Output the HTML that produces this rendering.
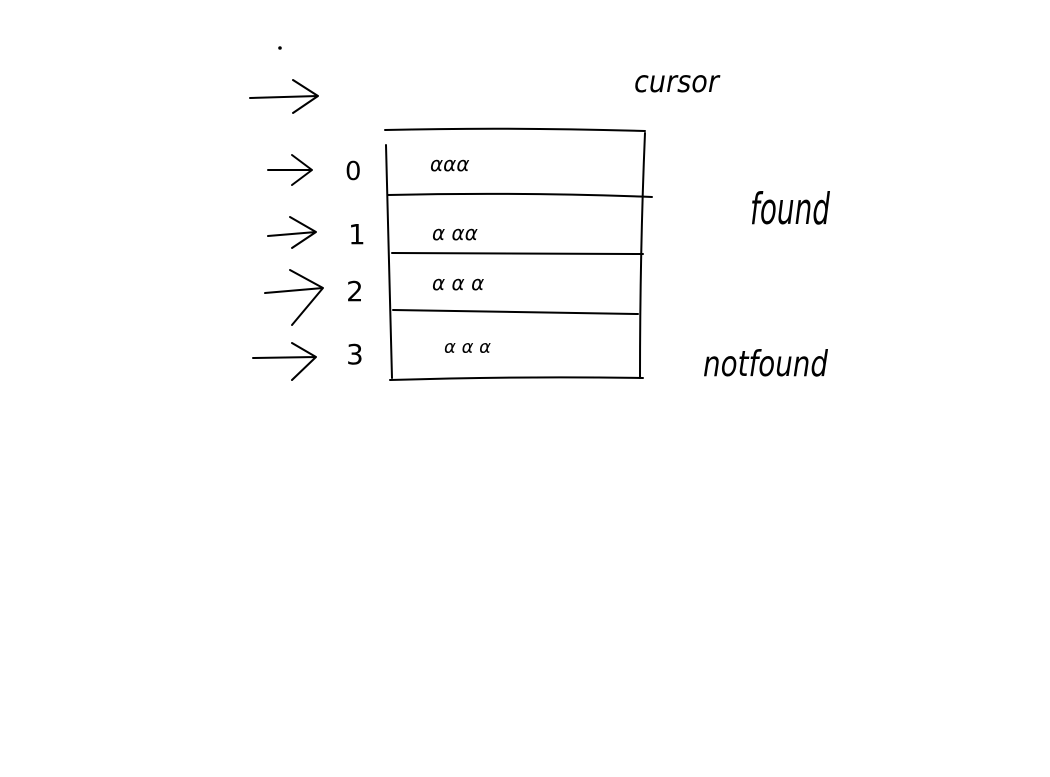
<!DOCTYPE html>
<html><head><meta charset="utf-8"><style>
html,body{margin:0;padding:0;background:#fff;width:1050px;height:777px;overflow:hidden}
svg{display:block}
text{font-family:"DejaVu Sans","Liberation Sans",sans-serif;fill:#000}
</style></head><body>
<svg width="1050" height="777" viewBox="0 0 1050 777" xmlns="http://www.w3.org/2000/svg">
<g fill="none" stroke="#000" stroke-width="2" stroke-linecap="round" stroke-linejoin="round">
<circle cx="280" cy="48" r="0.8" fill="#000"/>
<path d="M250 98 L318 96 M293 80 L318 96 L293 113"/>
<path d="M268 170 L312 170 M292 155 L312 170 L292 185"/>
<path d="M268 236 L316 232 M290 217 L316 232 L292 248"/>
<path d="M265 293 L323 288 M290 270 L323 288 L292 325"/>
<path d="M253 358 L316 357 M292 343 L316 357 L292 380"/>
<path d="M385 130 Q510 127 645 131"/>
<path d="M386 145 L392 378"/>
<path d="M645 133 Q640 250 640 378"/>
<path d="M388 195 Q520 192 652 197"/>
<path d="M392 253 L643 254"/>
<path d="M393 310 L638 314"/>
<path d="M390 380 Q520 376 643 378"/>
</g>
<text x="345" y="180" font-size="26">0</text>
<text x="348" y="244" font-size="28">1</text>
<text x="346" y="301" font-size="28">2</text>
<text x="346" y="364" font-size="28">3</text>
<text x="430" y="171" font-size="20" font-style="italic">ααα</text>
<text x="432" y="240" font-size="20" font-style="italic">α αα</text>
<text x="432" y="290" font-size="20" font-style="italic">α α α</text>
<text x="444" y="353" font-size="18" font-style="italic">α α α</text>
<text x="634" y="92" font-size="30" font-style="italic" textLength="85" lengthAdjust="spacingAndGlyphs">cursor</text>
<text x="750" y="224" font-size="44" font-style="italic" textLength="80" lengthAdjust="spacingAndGlyphs">found</text>
<text x="703" y="376" font-size="36" font-style="italic" textLength="125" lengthAdjust="spacingAndGlyphs">notfound</text>
</svg>
</body></html>
